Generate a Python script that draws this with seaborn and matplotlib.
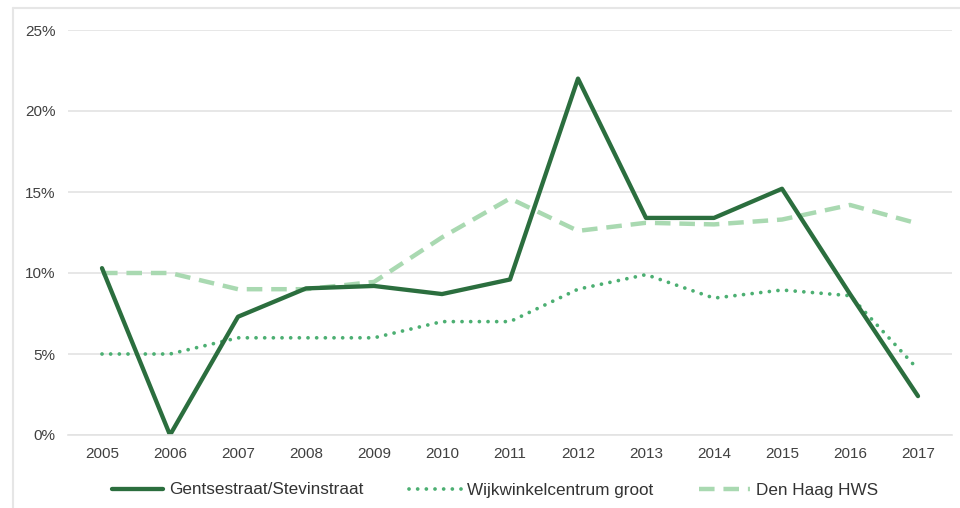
import pandas as pd
import numpy as np
import seaborn as sns
import matplotlib.pyplot as plt
from matplotlib.lines import Line2D
from matplotlib.ticker import PercentFormatter

# data (percentages)
years = ["2005", "2006", "2007", "2008", "2009", "2010", "2011",
         "2012", "2013", "2014", "2015", "2016", "2017"]
gentsestraat = [10.3, 0.0, 7.3, 9.05, 9.2, 8.7, 9.6, 22.0, 13.4, 13.4, 15.2, 8.7, 2.4]
wijkwinkel = [5.0, 5.0, 6.0, 6.0, 6.0, 7.0, 7.0, 9.0, 9.9, 8.45, 8.95, 8.6, 4.05]
den_haag = [10.0, 10.0, 9.0, 9.0, 9.45, 12.2, 14.6, 12.6, 13.1, 13.0, 13.3, 14.2, 13.05]

names = ["Gentsestraat/Stevinstraat", "Wijkwinkelcentrum groot", "Den Haag HWS"]
colors = ["#2b6e3e", "#4caf72", "#a9d9b1"]

df = pd.DataFrame({
    "year": years * 3,
    "pos": list(range(len(years))) * 3,
    "value": gentsestraat + wijkwinkel + den_haag,
    "serie": [names[0]] * 13 + [names[1]] * 13 + [names[2]] * 13,
})

sns.set_theme(style="white")
plt.rcParams['font.family'] = ['Liberation Sans', 'DejaVu Sans']

fig = plt.figure(figsize=(9.6, 5.08), dpi=100)
ax = fig.add_axes([68 / 960, 1 - 435 / 508, (952 - 68) / 960, 405 / 508])

styles = {
    names[0]: dict(lw=3.1, ls="-"),
    names[1]: dict(lw=2.7, ls=(0, (0.01, 2.3)), dash_capstyle="round"),
    names[2]: dict(lw=3.2, ls=(0, (3.5, 2.0))),
}
handles = []
# draw back to front: dashed, dotted, solid
for name, col in list(zip(names, colors))[::-1]:
    sub = df[df["serie"] == name]
    sns.lineplot(data=sub, x="pos", y="value", color=col, ax=ax,
                 legend=False, **styles[name])
for name, col in zip(names, colors):
    handles.append(Line2D([], [], color=col, **styles[name]))

ax.set_xlim(-0.5, len(years) - 0.5)
ax.set_ylim(0, 25)
ax.set_xticks(range(len(years)))
ax.set_xticklabels(years)
ax.set_yticks([0, 5, 10, 15, 20, 25])
ax.yaxis.set_major_formatter(PercentFormatter(decimals=0))
ax.grid(axis="y", color="#e3e3e3", lw=1.2)
ax.set_axisbelow(True)
for s in ax.spines.values():
    s.set_visible(False)
ax.spines["bottom"].set_visible(True)
ax.spines["bottom"].set_color("#e3e3e3")
ax.spines["bottom"].set_linewidth(1.2)
ax.tick_params(axis="both", length=0, labelsize=11, colors="#404040", pad=9)
ax.tick_params(axis="y", pad=9)
ax.set_xlabel("")
ax.set_ylabel("")

fig.legend(handles, names, loc="center", bbox_to_anchor=(495 / 960, 1 - 490 / 508),
           ncol=3, frameon=False, fontsize=12.3, handlelength=3.0,
           columnspacing=2.7, handletextpad=0.35, labelcolor="#333333")

# light frame around the chart
fig.add_artist(Line2D([13 / 960, 13 / 960], [0, 1 - 8 / 508], color="#e6e6e6",
                      lw=1.5, transform=fig.transFigure))
fig.add_artist(Line2D([13 / 960, 1], [1 - 8 / 508, 1 - 8 / 508], color="#e6e6e6",
                      lw=1.5, transform=fig.transFigure))

fig.savefig("out.png", dpi=100)
